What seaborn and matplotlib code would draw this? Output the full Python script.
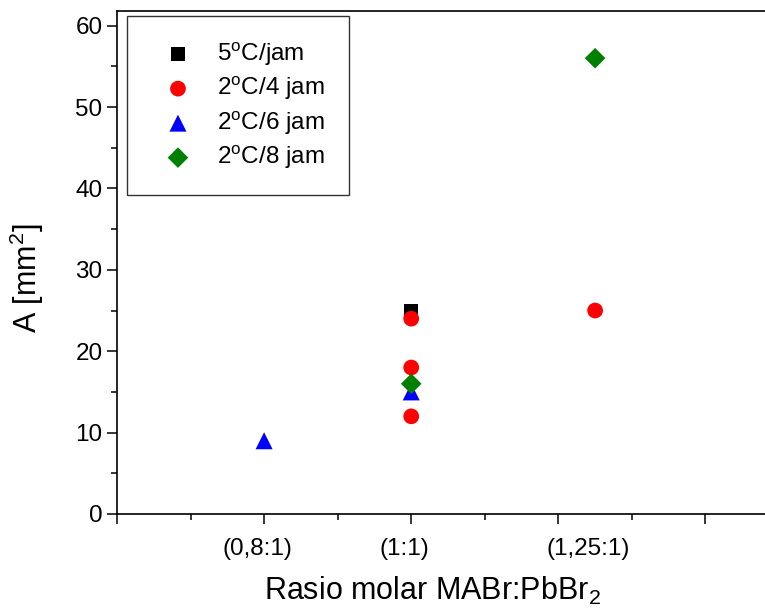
import matplotlib
matplotlib.use('Agg')
import matplotlib.pyplot as plt
import matplotlib.transforms as mtransforms
from matplotlib.ticker import MultipleLocator
import seaborn as sns
import pandas as pd

# data
labels = ['5$^{\\mathrm{o}}$C/jam', '2$^{\\mathrm{o}}$C/4 jam',
          '2$^{\\mathrm{o}}$C/6 jam', '2$^{\\mathrm{o}}$C/8 jam']
x_5c = [1.0]
y_5c = [25]
x_2c4 = [1.0, 1.0, 1.0, 1.25]
y_2c4 = [24, 18, 12, 25]
x_2c6 = [0.8, 1.0]
y_2c6 = [9, 15]
x_2c8 = [1.0, 1.25]
y_2c8 = [16, 56]
cat_pos = [0.8, 1.0, 1.25]
cat_labels = ['(0,8:1)', '(1:1)', '(1,25:1)']

sns.set_style('ticks')
plt.rcParams['font.family'] = ['Liberation Sans', 'DejaVu Sans']
plt.rcParams['mathtext.fontset'] = 'custom'
plt.rcParams['mathtext.rm'] = 'Liberation Sans'
plt.rcParams['mathtext.it'] = 'Liberation Sans:italic'
# semua teks hitam
for k in ['text.color', 'axes.labelcolor', 'xtick.color', 'ytick.color',
          'xtick.labelcolor', 'ytick.labelcolor', 'axes.edgecolor']:
    plt.rcParams[k] = 'black'

fig = plt.figure(figsize=(7.65, 6.12), dpi=100)
ax = fig.add_axes([117 / 765, 98 / 612, 662 / 765, 503 / 612])

series = [
    (x_5c, y_5c, 's', 'black', 100),
    (x_2c4, y_2c4, 'o', 'red', 128),
    (x_2c6, y_2c6, '^', 'blue', 150),
    (x_2c8, y_2c8, 'D', 'green', 110),
]
for (xs, ys, mk, col, sz), lab in zip(series, labels):
    df = pd.DataFrame({'x': xs, 'y': ys})
    sns.scatterplot(data=df, x='x', y='y', marker=mk, color=col, s=sz,
                    edgecolor='none', label=lab, ax=ax, zorder=3)

ax.set_xlim(0.6, 1.5)
ax.set_ylim(0, 61.8)
ax.xaxis.set_major_locator(MultipleLocator(0.2))
ax.xaxis.set_minor_locator(MultipleLocator(0.1))
ax.yaxis.set_major_locator(MultipleLocator(10))
ax.yaxis.set_minor_locator(MultipleLocator(5))
ax.set_xticklabels([])
ax.tick_params(which='major', length=7, width=1.1, labelsize=17.5, color='black')
ax.tick_params(which='minor', length=4, width=1.1, color='black')
for sp in ax.spines.values():
    sp.set_linewidth(1.2)
    sp.set_color('black')

# category labels under the axis
trans = mtransforms.blended_transform_factory(ax.transData, ax.transAxes)
for p, t in zip(cat_pos, cat_labels):
    ax.text(p - 0.009, -0.048, t, transform=trans, ha='center', va='top',
            fontsize=17.5, color='black')

ax.set_xlabel('Rasio molar MABr:PbBr$_2$', fontsize=22, color='black')
ax.set_ylabel('A [mm$^2$]', fontsize=22, color='black')
ax.xaxis.set_label_coords(0.476, -0.121)
ax.yaxis.set_label_coords(-0.107, 0.469)

leg = ax.legend(loc='upper left', bbox_to_anchor=(0.015, 0.99), fontsize=17.5,
                frameon=True, fancybox=False, edgecolor='black',
                borderpad=1.0, labelspacing=0.3, handletextpad=0.5,
                handlelength=2.2, borderaxespad=0, labelcolor='black')
leg.get_frame().set_linewidth(1.0)

fig.savefig('out.png', dpi=100)
